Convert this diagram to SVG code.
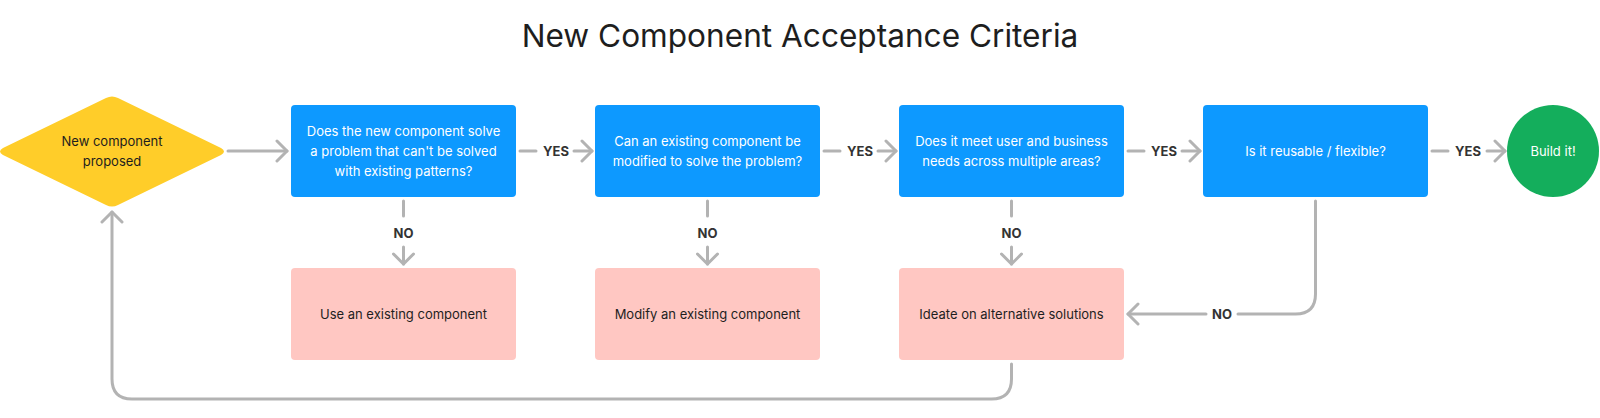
<svg xmlns="http://www.w3.org/2000/svg" width="1600" height="418" viewBox="0 0 1600 418">
<defs>
<marker id="ah" viewBox="0 0 14 24" refX="12" refY="12" markerWidth="14" markerHeight="24" markerUnits="userSpaceOnUse" orient="auto">
<path d="M2,2 L12,12 L2,22" fill="none" stroke="#B3B3B3" stroke-width="3" stroke-linecap="round" stroke-linejoin="round"/>
</marker>
</defs>
<style>
.t{font-family:Inter,"Noto Sans","Liberation Sans",sans-serif;font-size:13px;text-anchor:middle}
.w{fill:#FFFFFF}
.d{fill:#1E1E1E}
.lb{font-family:Inter,"Noto Sans","Liberation Sans",sans-serif;font-size:13px;font-weight:700;fill:#333333;text-anchor:middle}
.c{fill:none;stroke:#B3B3B3;stroke-width:3;stroke-linecap:round;stroke-linejoin:round}
.blue{fill:#0D99FF}
.pink{fill:#FFC7C2}
</style>
<rect width="1600" height="418" fill="#FFFFFF"/>
<text x="800" y="47" font-family="Inter,'Noto Sans','Liberation Sans',sans-serif" font-size="31.6" fill="#1E1E1E" text-anchor="middle">New Component Acceptance Criteria</text>

<g id="connectors">
<path class="c" d="M228,151 H287" marker-end="url(#ah)"/>
<path class="c" d="M520,151 H536"/><text class="lb" x="556" y="156">YES</text><path class="c" d="M574,151 H592" marker-end="url(#ah)"/>
<path class="c" d="M824,151 H840"/><text class="lb" x="860" y="156">YES</text><path class="c" d="M878,151 H896" marker-end="url(#ah)"/>
<path class="c" d="M1128,151 H1144"/><text class="lb" x="1164" y="156">YES</text><path class="c" d="M1182,151 H1200" marker-end="url(#ah)"/>
<path class="c" d="M1432,151 H1448"/><text class="lb" x="1468" y="156">YES</text><path class="c" d="M1487,151 H1505" marker-end="url(#ah)"/>
<path class="c" d="M403.5,201 V216"/><text class="lb" x="403.5" y="238">NO</text><path class="c" d="M403.5,247 V264" marker-end="url(#ah)"/>
<path class="c" d="M707.5,201 V216"/><text class="lb" x="707.5" y="238">NO</text><path class="c" d="M707.5,247 V264" marker-end="url(#ah)"/>
<path class="c" d="M1011.5,201 V216"/><text class="lb" x="1011.5" y="238">NO</text><path class="c" d="M1011.5,247 V264" marker-end="url(#ah)"/>
<path class="c" d="M1315.5,201 V294 Q1315.5,314 1295.5,314 H1238"/><text class="lb" x="1222" y="319">NO</text><path class="c" d="M1206,314 H1128" marker-end="url(#ah)"/>
<path class="c" d="M1011.5,364 V379 Q1011.5,399 991.5,399 H132 Q112,399 112,379 V212" marker-end="url(#ah)"/>
</g>

<g id="n0">
<path d="M3,155 Q-3,151.5 3,148 L106,98 Q112,95 118,98 L221,148 Q227,151.5 221,155 L118,205 Q112,208 106,205 Z" fill="#FFCD29"/>
<text class="t d" x="112" y="146">New component</text>
<text class="t d" x="112" y="166">proposed</text>
</g>
<g id="n1">
<rect class="blue" x="291" y="105" width="225" height="92" rx="4"/>
<text class="t w" x="403.5" y="136">Does the new component solve</text>
<text class="t w" x="403.5" y="156">a problem that can't be solved</text>
<text class="t w" x="403.5" y="176">with existing patterns?</text>
</g>
<g id="n2">
<rect class="blue" x="595" y="105" width="225" height="92" rx="4"/>
<text class="t w" x="707.5" y="146">Can an existing component be</text>
<text class="t w" x="707.5" y="166">modified to solve the problem?</text>
</g>
<g id="n3">
<rect class="blue" x="899" y="105" width="225" height="92" rx="4"/>
<text class="t w" x="1011.5" y="146">Does it meet user and business</text>
<text class="t w" x="1011.5" y="166">needs across multiple areas?</text>
</g>
<g id="n4">
<rect class="blue" x="1203" y="105" width="225" height="92" rx="4"/>
<text class="t w" x="1315.5" y="156">Is it reusable / flexible?</text>
</g>
<g id="n5">
<circle cx="1553" cy="151" r="46" fill="#14AE5C"/>
<text class="t w" x="1553" y="156">Build it!</text>
</g>
<g id="n6">
<rect class="pink" x="291" y="268" width="225" height="92" rx="4"/>
<text class="t d" x="403.5" y="319">Use an existing component</text>
</g>
<g id="n7">
<rect class="pink" x="595" y="268" width="225" height="92" rx="4"/>
<text class="t d" x="707.5" y="319">Modify an existing component</text>
</g>
<g id="n8">
<rect class="pink" x="899" y="268" width="225" height="92" rx="4"/>
<text class="t d" x="1011.5" y="319">Ideate on alternative solutions</text>
</g>
</svg>
